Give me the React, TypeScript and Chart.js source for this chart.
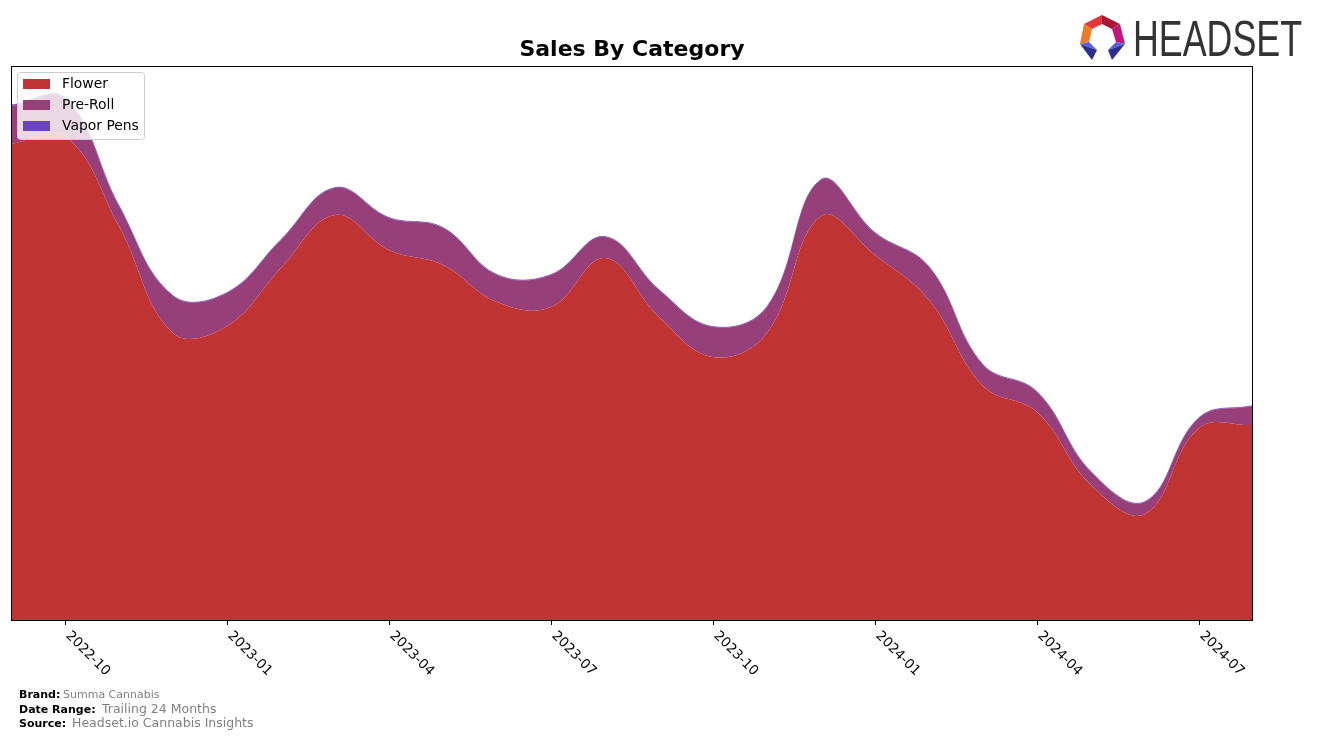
import React, { useEffect, useRef } from "react";
import { Chart, registerables } from "chart.js";

Chart.register(...registerables);

const months = [
  "2022-09", "2022-10", "2022-11", "2022-12",
  "2023-01", "2023-02", "2023-03", "2023-04", "2023-05", "2023-06",
  "2023-07", "2023-08", "2023-09", "2023-10", "2023-11", "2023-12",
  "2024-01", "2024-02", "2024-03", "2024-04", "2024-05", "2024-06",
  "2024-07", "2024-08",
];
const flower = [476, 484, 394, 287, 294, 352, 405, 370, 355, 318, 313, 362, 303, 263, 287, 404, 365, 320, 234, 208, 135, 106, 192, 195];
const preRoll = [38, 37, 20, 37, 33, 28, 27, 32, 37, 27, 32, 21, 27, 30, 26, 36, 22, 33, 21, 20, 13, 12, 10, 19];
const vaporPens = [1, 1, 0.5, 0.5, 0.5, 0.5, 0.5, 0.5, 0.5, 0.5, 0.5, 0.5, 0.5, 0.5, 0.5, 0.5, 0.5, 0.5, 0.5, 0.5, 0.5, 0.5, 0.5, 0.5];
const tickMonths = ["2022-10", "2023-01", "2023-04", "2023-07", "2023-10", "2024-01", "2024-04", "2024-07"];
const seriesNames = ["Flower", "Pre-Roll", "Vapor Pens"];
const seriesColors = ["#c03434", "#963f78", "#6a45bd"];

const W = 1317;
const H = 741;
const AREA = { left: 11, right: 1253, top: 66, bottom: 620 };

function drawLogo(ctx: CanvasRenderingContext2D) {
  const poly = (pts: number[][], color: string) => {
    ctx.beginPath();
    ctx.moveTo(pts[0][0], pts[0][1]);
    for (let i = 1; i < pts.length; i++) ctx.lineTo(pts[i][0], pts[i][1]);
    ctx.closePath();
    ctx.fillStyle = color;
    ctx.fill();
  };
  poly([[1084, 24], [1102, 15], [1102, 24], [1092, 29]], "#e2363c");
  poly([[1102, 15], [1120, 24], [1112, 29], [1102, 24]], "#a8163a");
  poly([[1120, 24], [1125, 44], [1116, 42], [1112, 29]], "#c0167c");
  poly([[1084, 24], [1092, 29], [1089, 42], [1080, 44]], "#f07a26");
  poly([[1080, 44], [1089, 42], [1097, 50]], "#5a60dc");
  poly([[1080, 44], [1097, 50], [1092, 60]], "#2c2f8e");
  poly([[1125, 44], [1116, 42], [1108, 50]], "#5a60dc");
  poly([[1125, 44], [1108, 50], [1112, 60]], "#2c2f8e");

  ctx.save();
  ctx.fillStyle = "#333333";
  ctx.font = "50px 'Liberation Sans', Arial, sans-serif";
  ctx.textBaseline = "alphabetic";
  ctx.textAlign = "left";
  const tw = ctx.measureText("HEADSET").width;
  const target = 169;
  ctx.translate(1133, 56);
  ctx.scale(target / tw, 1);
  ctx.fillText("HEADSET", 0, 0);
  ctx.restore();
}

const decorPlugin = {
  id: "decor",
  afterDraw(chart: any) {
    const ctx: CanvasRenderingContext2D = chart.ctx;
    const xs = chart.scales.x;
    ctx.save();

    // plot border
    ctx.strokeStyle = "#000";
    ctx.lineWidth = 1;
    ctx.strokeRect(AREA.left + 0.5, AREA.top + 0.5, AREA.right - AREA.left - 1, AREA.bottom - AREA.top);

    // x ticks & rotated labels
    ctx.font = "13.5px 'DejaVu Sans', sans-serif";
    ctx.fillStyle = "#000";
    tickMonths.forEach((m) => {
      const idx = months.indexOf(m);
      const px = Math.round(xs.getPixelForValue(idx)) + 0.5;
      ctx.beginPath();
      ctx.moveTo(px, AREA.bottom);
      ctx.lineTo(px, AREA.bottom + 5);
      ctx.stroke();
      ctx.save();
      ctx.translate(px + 0.707 * 10, AREA.bottom + 9);
      ctx.rotate(Math.PI / 4);
      ctx.textAlign = "left";
      ctx.textBaseline = "top";
      ctx.fillText(m, 0, 0);
      ctx.restore();
    });

    // title
    ctx.font = "bold 22px 'DejaVu Sans', sans-serif";
    ctx.textAlign = "center";
    ctx.textBaseline = "middle";
    ctx.fillText("Sales By Category", (AREA.left + AREA.right) / 2, 50);

    // legend
    const lx = 17, ly = 72, lw = 127, lh = 67;
    ctx.beginPath();
    (ctx as any).roundRect(lx + 0.5, ly + 0.5, lw, lh, 3);
    ctx.fillStyle = "rgba(255,255,255,0.8)";
    ctx.fill();
    ctx.strokeStyle = "#cccccc";
    ctx.stroke();
    ctx.font = "13.9px 'DejaVu Sans', sans-serif";
    ctx.textAlign = "left";
    ctx.textBaseline = "middle";
    seriesNames.forEach((n, i) => {
      const cy = 84 + i * 21;
      ctx.fillStyle = seriesColors[i];
      ctx.fillRect(23, cy - 5, 27, 10);
      ctx.fillStyle = "#000";
      ctx.fillText(n, 62, cy);
    });

    // footer
    const footer = [
      { k: "Brand:", v: "Summa Cannabis", y: 695, vs: 11, vx: 63 },
      { k: "Date Range:", v: "Trailing 24 Months", y: 710, vs: 13, vx: 102 },
      { k: "Source:", v: "Headset.io Cannabis Insights", y: 724, vs: 13, vx: 72 },
    ];
    footer.forEach((f) => {
      ctx.font = "bold 11px 'DejaVu Sans', sans-serif";
      ctx.fillStyle = "#000";
      ctx.fillText(f.k, 19, f.y);
      ctx.font = `${f.vs === 11 ? 11 : 12.5}px 'DejaVu Sans', sans-serif`;
      ctx.fillStyle = "#808080";
      ctx.fillText(f.v, f.vx, f.y);
    });

    drawLogo(ctx);
    ctx.restore();
  },
};

export default function App() {
  const ref = useRef<HTMLCanvasElement | null>(null);
  useEffect(() => {
    if (!ref.current) return;
    const values = [flower, preRoll, vaporPens];
    const chart = new Chart(ref.current, {
      type: "line",
      data: {
        datasets: values.map((arr, i) => ({
          label: seriesNames[i],
          data: arr.map((v, j) => ({ x: j, y: v })),
          backgroundColor: seriesColors[i],
          borderColor: i === 2 ? seriesColors[2] : "rgba(0,0,0,0)",
          borderWidth: i === 2 ? 0.6 : 0,
          fill: i === 0 ? "origin" : "-1",
          pointRadius: 0,
          tension: 0.4,
        })),
      },
      options: {
        responsive: false,
        animation: false,
        events: [],
        layout: {
          padding: { left: AREA.left, right: W - AREA.right, top: AREA.top, bottom: H - AREA.bottom },
        },
        plugins: { legend: { display: false }, title: { display: false }, tooltip: { enabled: false } },
        scales: {
          x: { type: "linear", min: 0, max: months.length - 1, display: false },
          y: { stacked: true, min: 0, max: 554, display: false },
        },
      },
      plugins: [decorPlugin],
    });
    return () => chart.destroy();
  }, []);
  return (
    <div style={{ position: "absolute", left: 0, top: 0, width: W, height: H, background: "#fff" }}>
      <canvas ref={ref} width={W} height={H} style={{ display: "block" }} />
    </div>
  );
}
